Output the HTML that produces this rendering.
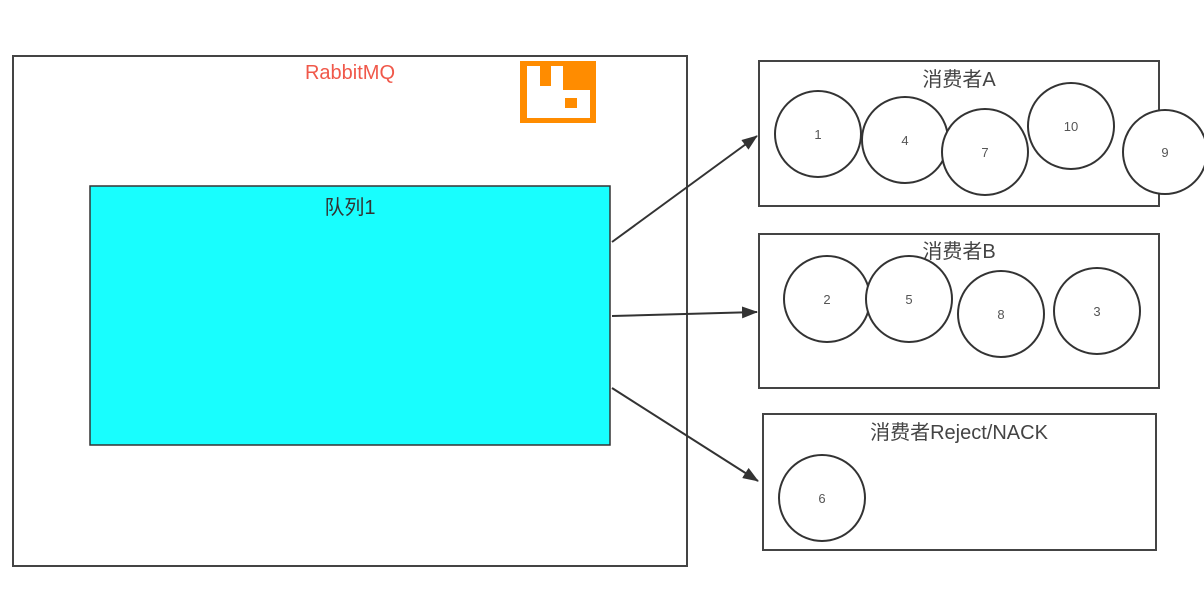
<!DOCTYPE html>
<html><head><style>body{margin:0;background:#fff}svg{display:block}</style></head><body>
<svg width="1204" height="608" xmlns="http://www.w3.org/2000/svg" font-family="Liberation Sans, Noto Sans CJK SC, sans-serif">
<defs><marker id="a" markerWidth="16" markerHeight="12" refX="15" refY="6" orient="auto" markerUnits="userSpaceOnUse"><path d="M0,0 L16,6 L0,12 z" fill="#333"/></marker></defs>
<g fill="none" stroke="#444" stroke-width="2">
<rect x="13" y="56" width="674" height="510"/>
<rect x="759" y="61" width="400" height="145"/>
<rect x="759" y="234" width="400" height="154"/>
<rect x="763" y="414" width="393" height="136"/>
</g>
<rect x="90" y="186" width="520" height="259" fill="#18FEFE" stroke="#333" stroke-width="1.5"/>
<text x="350" y="79" font-size="20" fill="#F0584A" text-anchor="middle">RabbitMQ</text>
<rect x="520" y="61" width="76" height="62" fill="#FF8C00"/>
<path d="M527,66 H540 V86 H551 V66 H563 V90 H590 V118 H527 Z" fill="#fff"/>
<rect x="565" y="98" width="12" height="10" fill="#FF8C00"/>
<text x="350" y="214" font-size="20" fill="#333" text-anchor="middle">队列1</text>
<g stroke="#333" stroke-width="2" marker-end="url(#a)">
<line x1="612" y1="242" x2="757" y2="136"/>
<line x1="612" y1="316" x2="757" y2="312"/>
<line x1="612" y1="388" x2="758" y2="481"/>
</g>
<g font-size="20" fill="#444" text-anchor="middle">
<text x="959" y="86">消费者A</text>
<text x="959" y="258">消费者B</text>
<text x="959" y="439">消费者Reject/NACK</text>
</g>
<g fill="#fff" stroke="#333" stroke-width="2">
<circle cx="818" cy="134" r="43"/><circle cx="905" cy="140" r="43"/><circle cx="985" cy="152" r="43"/><circle cx="1071" cy="126" r="43"/><circle cx="1165" cy="152" r="42"/>
<circle cx="827" cy="299" r="43"/><circle cx="909" cy="299" r="43"/><circle cx="1001" cy="314" r="43"/><circle cx="1097" cy="311" r="43"/>
<circle cx="822" cy="498" r="43"/>
</g>
<g font-size="13" fill="#555" text-anchor="middle">
<text x="818" y="139">1</text><text x="905" y="145">4</text><text x="985" y="157">7</text><text x="1071" y="131">10</text><text x="1165" y="157">9</text>
<text x="827" y="304">2</text><text x="909" y="304">5</text><text x="1001" y="319">8</text><text x="1097" y="316">3</text>
<text x="822" y="503">6</text>
</g>
</svg>
</body></html>
